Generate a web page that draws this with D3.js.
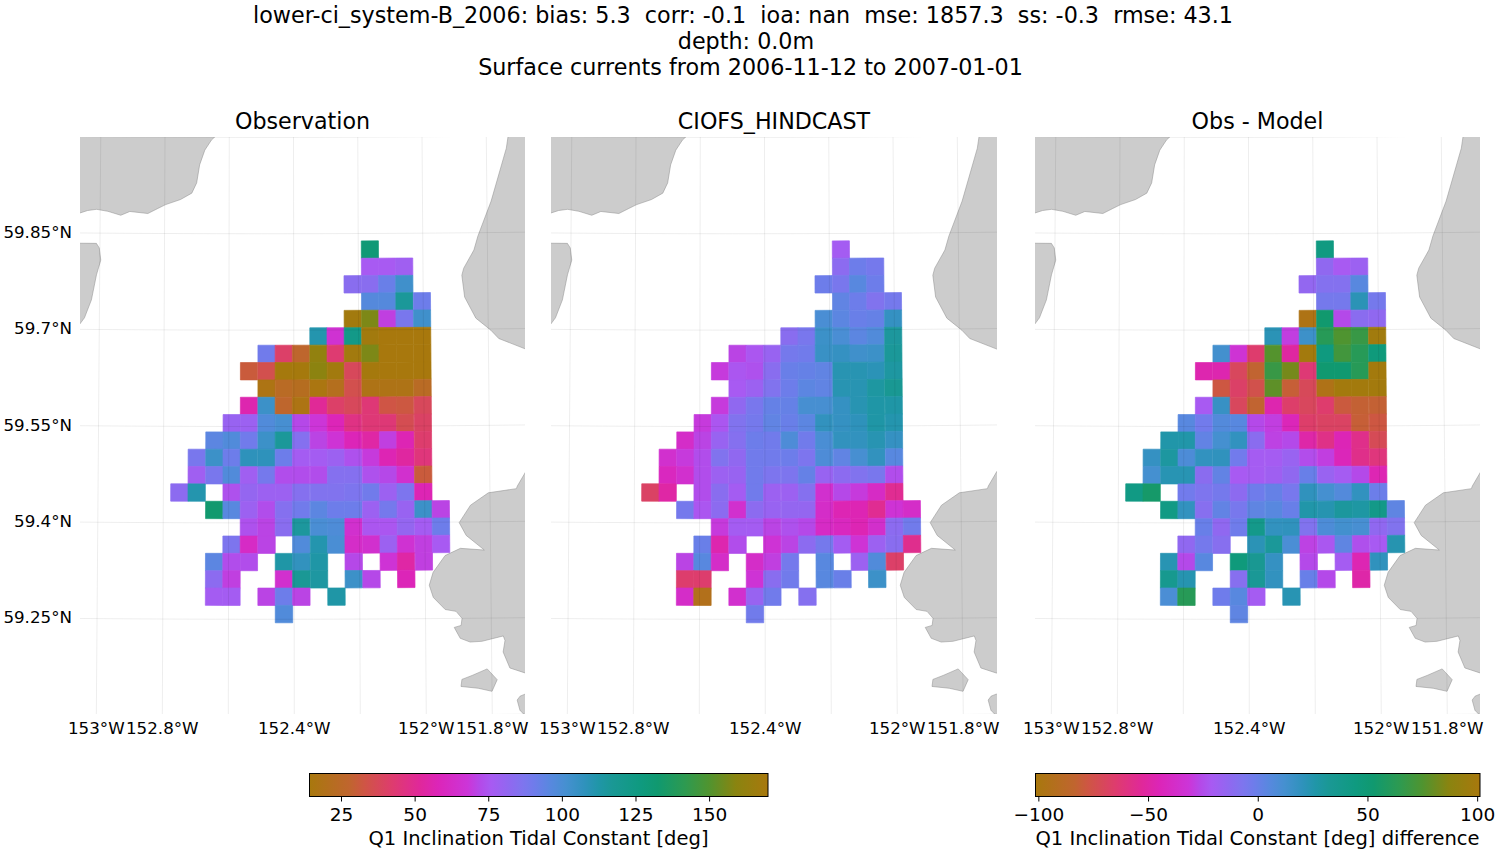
<!DOCTYPE html>
<html>
<head>
<meta charset="utf-8">
<script src="https://cdn.jsdelivr.net/npm/d3@7"></script>
<style>
html, body { margin: 0; padding: 0; background: #fff; }
text { font-family: "DejaVu Sans", sans-serif; fill: #000; }
</style>
</head>
<body>
<svg id="chart" width="1500" height="850"></svg>
<script>
var N = null;

var titleLines = [
    "lower-ci_system-B_2006: bias: 5.3  corr: -0.1  ioa: nan  mse: 1857.3  ss: -0.3  rmse: 43.1",
    "depth: 0.0m",
    "Surface currents from 2006-11-12 to 2007-01-01"
];
var panelTitles = ["Observation", "CIOFS_HINDCAST", "Obs - Model"];
var obsLabel = "Q1 Inclination Tidal Constant [deg]";
var diffLabel = "Q1 Inclination Tidal Constant [deg] difference";

var cellLons = [-152.751, -152.698, -152.644, -152.591, -152.538, -152.484, -152.431, -152.378,
    -152.324, -152.271, -152.218, -152.164, -152.111, -152.058, -152.004, -151.951];
var cellLats = [59.825, 59.798, 59.771, 59.744, 59.717, 59.690, 59.663, 59.636, 59.609, 59.582, 59.555,
    59.528, 59.501, 59.474, 59.447, 59.420, 59.393, 59.366, 59.339, 59.312, 59.285, 59.258];

var obsValues = [
    [N,N,N,N,N,N,N,N,N,N,N,130,N,N,N,N],
    [N,N,N,N,N,N,N,N,N,N,N,76,76,78,N,N],
    [N,N,N,N,N,N,N,N,N,N,84,84,92,103,N,N],
    [N,N,N,N,N,N,N,N,N,N,N,97,97,116,91,N],
    [N,N,N,N,N,N,N,N,N,N,168,157,70,88,103,N],
    [N,N,N,N,N,N,N,N,111,66,123,168,170,170,170,N],
    [N,N,N,N,N,90,41,27,162,43,168,157,170,170,170,N],
    [N,N,N,N,31,35,169,169,160,168,38,169,170,170,170,N],
    [N,N,N,N,N,17,24,22,16,21,35,18,18,18,24,N],
    [N,N,N,N,56,104,27,17,51,41,38,44,33,32,38,N],
    [N,N,N,80,79,98,101,72,68,58,47,44,44,36,40,N],
    [N,N,95,98,90,104,116,85,71,67,58,54,70,57,42,N],
    [N,88,104,91,108,108,91,77,77,79,74,69,57,53,45,N],
    [N,78,88,98,78,89,73,73,73,85,85,74,72,65,31,N],
    [83,111,N,74,81,79,79,85,86,86,87,90,79,87,57,N],
    [N,N,133,96,79,73,85,90,95,91,91,79,89,80,104,71],
    [N,N,N,N,74,71,84,115,100,99,65,75,75,81,77,91],
    [N,N,N,87,62,71,N,98,111,100,63,65,79,66,70,76],
    [N,N,95,73,73,N,113,107,113,N,72,N,67,54,70,N],
    [N,N,83,70,N,N,65,117,114,N,104,72,N,58,N,N],
    [N,N,77,77,N,71,91,71,N,113,N,N,N,N,N,N],
    [N,N,N,N,N,N,98,N,N,N,N,N,N,N,N,N]
];

var modelValues = [
    [N,N,N,N,N,N,N,N,N,N,N,77,N,N,N,N],
    [N,N,N,N,N,N,N,N,N,N,N,83,91,89,N,N],
    [N,N,N,N,N,N,N,N,N,N,91,88,96,91,N,N],
    [N,N,N,N,N,N,N,N,N,N,N,94,91,86,89,N],
    [N,N,N,N,N,N,N,N,N,N,100,95,92,93,106,N],
    [N,N,N,N,N,N,N,N,84,88,104,100,95,98,115,N],
    [N,N,N,N,N,71,75,80,89,90,105,106,103,104,116,N],
    [N,N,N,N,69,75,74,84,92,93,94,110,110,109,114,N],
    [N,N,N,N,N,76,79,86,91,95,94,110,110,114,118,N],
    [N,N,N,N,69,82,88,93,93,101,101,106,110,113,113,N],
    [N,N,N,69,75,86,89,94,92,95,107,106,108,113,111,N],
    [N,N,63,71,80,85,91,90,99,90,100,107,107,110,106,N],
    [N,65,69,73,86,82,90,90,91,87,99,94,101,107,96,N],
    [N,60,65,73,79,80,90,87,87,93,80,83,86,88,73,N],
    [40,54,N,73,84,77,90,79,79,85,65,72,69,62,50,N],
    [N,N,89,75,83,65,83,80,81,81,63,57,57,50,67,63],
    [N,N,N,N,69,77,77,71,74,72,62,60,57,64,83,90],
    [N,N,N,92,56,73,N,67,71,83,89,77,67,79,84,49],
    [N,N,71,96,63,N,63,70,89,N,96,N,79,98,41,N],
    [N,N,42,42,N,N,67,84,90,N,96,92,N,104,N,N],
    [N,N,63,20,N,65,80,90,N,85,N,N,N,N,N,N],
    [N,N,N,N,N,N,90,N,N,N,N,N,N,N,N,N]
];

var diffValues = [
    [N,N,N,N,N,N,N,N,N,N,N,44,N,N,N,N],
    [N,N,N,N,N,N,N,N,N,N,N,-13,-21,-17,N,N],
    [N,N,N,N,N,N,N,N,N,N,-14,-9,-9,5,N,N],
    [N,N,N,N,N,N,N,N,N,N,N,-4,-4,22,-4,N],
    [N,N,N,N,N,N,N,N,N,N,-97,53,-26,-11,-13,N],
    [N,N,N,N,N,N,N,N,22,-29,15,62,75,68,98,N],
    [N,N,N,N,N,13,-33,-65,76,-51,99,45,71,62,47,N],
    [N,N,N,N,-47,-47,-70,-83,68,83,-63,52,52,62,99,N],
    [N,N,N,N,N,-78,-67,-75,78,-81,-71,-96,99,99,99,N],
    [N,N,N,N,-21,17,-70,-83,-47,-66,-70,-65,-79,-82,-82,N],
    [N,N,N,5,-3,7,5,-26,-29,-44,-66,-68,-68,-81,-78,N],
    [N,N,26,26,2,12,19,-11,-28,-26,-49,-58,-45,-57,-72,N],
    [N,18,29,9,19,20,-3,-20,-20,-16,-25,-29,-44,-57,-61,N],
    [N,12,23,23,-11,2,-21,-20,-18,-13,0,-16,-20,-26,-46,N],
    [42,55,N,-3,-7,-4,-12,-2,1,-5,20,12,7,19,-1,N],
    [N,N,42,19,-10,2,-5,3,5,0,26,24,30,28,40,3],
    [N,N,N,N,0,-13,-2,39,19,20,-8,9,13,11,-13,-8],
    [N,N,N,-13,-4,-10,N,22,31,10,-28,-22,3,-24,-21,24],
    [N,N,23,-26,5,N,47,34,18,N,-26,N,-20,-46,20,N],
    [N,N,36,24,N,N,-10,32,19,N,0,-26,N,-49,N,N],
    [N,N,10,62,N,-2,5,-20,N,23,N,N,N,N,N,N],
    [N,N,N,N,N,N,3,N,N,N,N,N,N,N,N,N]
];

var obsDomain = [14.3, 170];
var diffDomain = [-101.3, 101.3];
var obsTicks = [25, 50, 75, 100, 125, 150];
var diffTicks = [-100, -50, 0, 50, 100];

// cmocean phase
var phaseStops = [0, 0.088, 0.12, 0.18, 0.24, 0.28, 0.345, 0.37, 0.396, 0.435, 0.466, 0.49, 0.525, 0.56, 0.6, 0.63, 0.66, 0.72, 0.76, 0.82, 0.87, 0.93, 1];
var phaseColors = ["#a8780d", "#c0652f", "#cf5545", "#de3c6e", "#e0289a", "#dc25b8", "#cc35d8", "#b548e8", "#a85af2",
    "#9068f0", "#7e75ee", "#6f7ceb", "#5888df", "#4590d0", "#2f92bc", "#2096a8", "#1a9895", "#0f9a80", "#10996f",
    "#2e9a50", "#4f9430", "#8a8410", "#a8780d"];

var lonGrid = [-153, -152.8, -152.6, -152.4, -152.2, -152, -151.8];
var latGrid = [60, 59.85, 59.7, 59.55, 59.4, 59.25, 59.1];
var lonLabels = {"-153": "153°W", "-152.8": "152.8°W", "-152.4": "152.4°W", "-152": "152°W", "-151.8": "151.8°W"};
var latLabels = {"59.85": "59.85°N", "59.7": "59.7°N", "59.55": "59.55°N", "59.4": "59.4°N", "59.25": "59.25°N"};

// coast outlines, lon/lat
var landRings = [
    [[-153.125,59.881],[-153.063,59.881],[-153.039,59.885],[-153.011,59.887],[-152.976,59.884],[-152.936,59.878],
     [-152.908,59.884],[-152.852,59.881],[-152.821,59.889],[-152.797,59.895],[-152.751,59.903],[-152.716,59.913],
     [-152.701,59.929],[-152.692,59.957],[-152.676,59.980],[-152.655,59.996],[-152.642,60.002],[-152.63,60.027],[-153.13,60.027]],
    [[-153.125,59.834],[-153.064,59.834],[-153.011,59.834],[-153.002,59.827],[-152.997,59.808],[-153.010,59.785],
     [-153.025,59.746],[-153.046,59.718],[-153.062,59.707],[-153.087,59.700],[-153.125,59.700]],
    [[-151.72,60.03],[-151.732,60.000],[-151.738,59.981],[-151.787,59.899],[-151.829,59.845],[-151.842,59.823],
     [-151.874,59.795],[-151.880,59.784],[-151.872,59.750],[-151.838,59.717],[-151.792,59.698],[-151.768,59.685],
     [-151.685,59.668],[-151.64,59.66],[-151.64,60.03]],
    [[-151.65,59.50],[-151.690,59.477],[-151.716,59.455],[-151.719,59.451],[-151.805,59.445],[-151.860,59.426],
     [-151.895,59.399],[-151.874,59.379],[-151.819,59.356],[-151.892,59.359],[-151.939,59.348],[-151.976,59.322],
     [-151.988,59.302],[-151.976,59.283],[-151.940,59.264],[-151.907,59.261],[-151.889,59.250],[-151.892,59.239],
     [-151.913,59.236],[-151.895,59.219],[-151.865,59.213],[-151.829,59.214],[-151.764,59.222],[-151.759,59.215],
     [-151.765,59.197],[-151.745,59.172],[-151.699,59.164],[-151.65,59.16]],
    [[-151.894,59.144],[-151.891,59.155],[-151.860,59.161],[-151.814,59.171],[-151.784,59.154],[-151.800,59.136],[-151.842,59.141]],
    [[-151.65,59.13],[-151.700,59.131],[-151.715,59.128],[-151.724,59.122],[-151.716,59.106],[-151.701,59.098],[-151.65,59.08]]
];

var panels = [
    {title: panelTitles[0], values: obsValues, domain: obsDomain, left: 80, width: 445, dx: 0, latAxis: true},
    {title: panelTitles[1], values: modelValues, domain: obsDomain, left: 551, width: 446, dx: 471, latAxis: false},
    {title: panelTitles[2], values: diffValues, domain: diffDomain, left: 1035, width: 445, dx: 955, latAxis: false}
];

var svg = d3.select("#chart");
var top_y = 137, bottom_y = 714;

var phaseScale = d3.scaleLinear().domain(phaseStops).range(phaseColors).clamp(true);

function colorFor(domain) {
    var t = d3.scaleLinear().domain(domain).range([0, 1]).clamp(true);
    return function (v) { return phaseScale(t(v)); };
}

/* Titles */
svg.selectAll(".suptitle")
    .data(titleLines)
    .enter().append("text")
    .attr("class", "suptitle")
    .attr("x", function (d, i) { return [743, 746, 750.5][i]; })
    .attr("y", function (d, i) { return 22.5 + i * 26; })
    .attr("text-anchor", "middle")
    .style("white-space", "pre")
    .attr("font-size", 22.25)
    .text(function (d) { return d; });

function drawPanel(p, idx) {
    var projection = d3.geoConicConformal()
        .parallels([59.5, 59.5])
        .rotate([152.49, 0])
        .center([0, 59.55])
        .scale(36813)
        .translate([264.6 + p.dx, 426.5]);
    var color = colorFor(p.domain);
    var line = d3.line();

    var clipId = "clip" + idx;
    svg.append("clipPath").attr("id", clipId)
        .append("rect")
        .attr("x", p.left).attr("y", top_y)
        .attr("width", p.width).attr("height", bottom_y - top_y);

    var g = svg.append("g").attr("clip-path", "url(#" + clipId + ")");

    // land
    g.selectAll(".land")
        .data(landRings)
        .enter().append("path")
        .attr("class", "land")
        .attr("d", function (ring) { return line(ring.map(function (c) { return projection(c); })) + "Z"; })
        .attr("fill", "#cccccc")
        .attr("stroke", "#8a8a8a")
        .attr("stroke-width", 0.5);

    // cells
    var halfLon = (cellLons[1] - cellLons[0]) / 2;
    var halfLat = (cellLats[0] - cellLats[1]) / 2;
    var cells = [];
    p.values.forEach(function (row, r) {
        row.forEach(function (v, c) {
            if (v !== null) cells.push({lon: cellLons[c], lat: cellLats[r], value: v});
        });
    });
    g.selectAll(".cell")
        .data(cells)
        .enter().append("path")
        .attr("class", "cell")
        .attr("d", function (d) {
            return line([
                projection([d.lon - halfLon, d.lat + halfLat]),
                projection([d.lon + halfLon, d.lat + halfLat]),
                projection([d.lon + halfLon, d.lat - halfLat]),
                projection([d.lon - halfLon, d.lat - halfLat])
            ]) + "Z";
        })
        .attr("fill", function (d) { return color(d.value); })
        .attr("stroke", function (d) { return color(d.value); })
        .attr("stroke-width", 0.7);

    // grid lines run over everything
    lonGrid.forEach(function (lon) {
        g.append("path")
            .attr("d", line(d3.range(59.0, 60.1, 0.05).map(function (lat) { return projection([lon, lat]); })))
            .attr("fill", "none").attr("stroke", "#000").attr("stroke-opacity", 0.07).attr("stroke-width", 1);
    });
    latGrid.forEach(function (lat) {
        g.append("path")
            .attr("d", line(d3.range(-153.3, -151.5, 0.02).map(function (lon) { return projection([lon, lat]); })))
            .attr("fill", "none").attr("stroke", "#000").attr("stroke-opacity", 0.07).attr("stroke-width", 1);
    });

    svg.append("text")
        .attr("x", p.left + p.width / 2)
        .attr("y", 129)
        .attr("text-anchor", "middle")
        .attr("font-size", 22.2)
        .text(p.title);

    lonGrid.forEach(function (lon) {
        var label = lonLabels[String(lon)];
        if (!label) return;
        svg.append("text")
            .attr("x", projection([lon, 59.1])[0])
            .attr("y", 734)
            .attr("text-anchor", "middle")
            .attr("font-size", 16.7)
            .text(label);
    });

    if (p.latAxis) {
        latGrid.forEach(function (lat) {
            var label = latLabels[String(lat)];
            if (!label) return;
            svg.append("text")
                .attr("x", 72)
                .attr("y", projection([-153.06, lat])[1] + 5)
                .attr("text-anchor", "end")
                .attr("font-size", 16.7)
                .text(label);
        });
    }
}

panels.forEach(drawPanel);

/* Colorbars */
function drawColorbar(id, domain, ticks, label, x0, x1, labelX) {
    var y0 = 773.5, h = 23;
    var grad = svg.append("linearGradient").attr("id", id);
    phaseStops.forEach(function (s, i) {
        grad.append("stop").attr("offset", s).attr("stop-color", phaseColors[i]);
    });
    svg.append("rect")
        .attr("x", x0).attr("y", y0).attr("width", x1 - x0).attr("height", h)
        .attr("fill", "url(#" + id + ")")
        .attr("stroke", "#000").attr("stroke-width", 1);

    var scale = d3.scaleLinear().domain(domain).range([x0, x1]);
    var axis = d3.axisBottom(scale).tickValues(ticks).tickSize(5).tickPadding(6);
    var a = svg.append("g").attr("transform", "translate(0," + (y0 + h) + ")").call(axis);
    a.select(".domain").remove();
    a.selectAll("text").attr("font-size", 18.5).attr("font-family", "DejaVu Sans");
    a.selectAll("line").attr("stroke-width", 1);

    svg.append("text")
        .attr("x", labelX).attr("y", 845)
        .attr("text-anchor", "middle")
        .attr("font-size", 19.5)
        .text(label);
}

drawColorbar("barObs", obsDomain, obsTicks, obsLabel, 309.5, 768, 538.5);
drawColorbar("barDiff", diffDomain, diffTicks, diffLabel, 1035.5, 1480, 1257.5);
</script>
</body>
</html>
